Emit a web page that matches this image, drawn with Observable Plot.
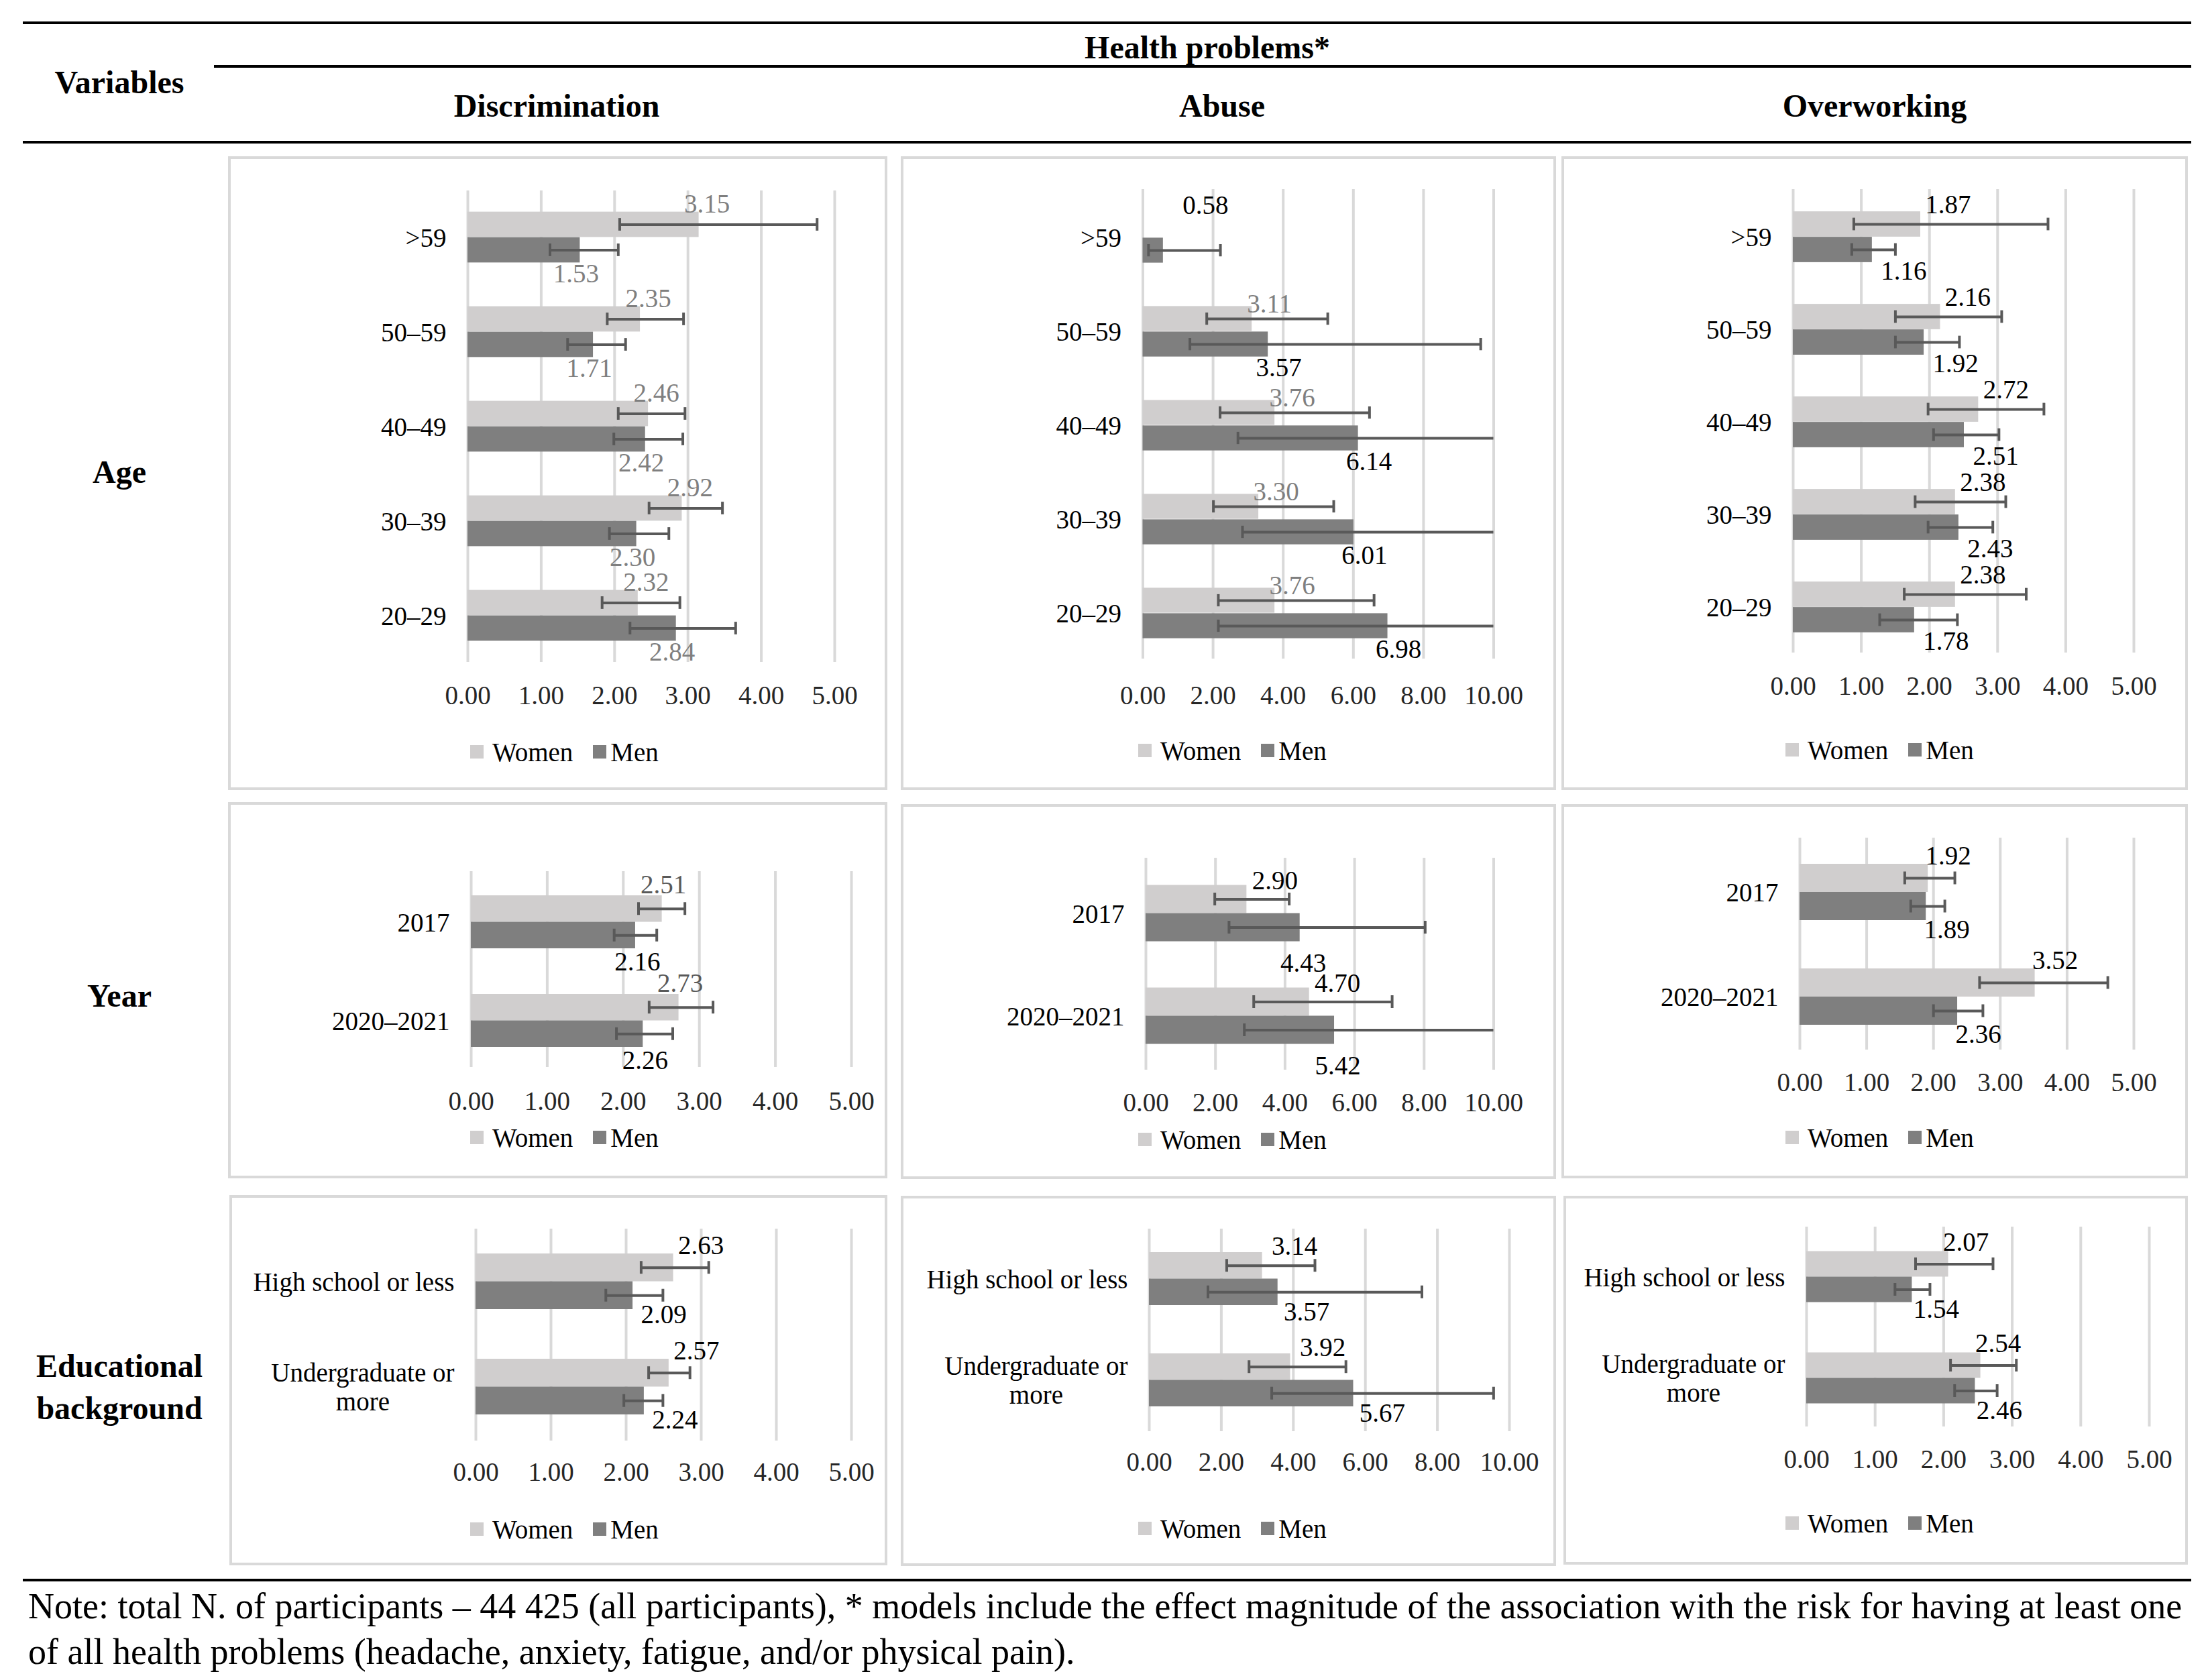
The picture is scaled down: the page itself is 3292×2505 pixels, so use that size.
<!DOCTYPE html>
<html>
<head>
<meta charset="utf-8">
<script src="https://cdn.jsdelivr.net/npm/d3@7"></script>
<script src="https://cdn.jsdelivr.net/npm/@observablehq/plot@0.6"></script>
<style>
  html, body { margin: 0; padding: 0; background: #fff; }
  #root { position: relative; width: 3292px; height: 2505px; background: #fff; font-family: "Liberation Serif", "Times New Roman", serif; color: #000; overflow: hidden; }
  .hline { position: absolute; background: #000; height: 4px; }
  .ctext { position: absolute; transform: translate(-50%, -50%); white-space: nowrap; }
  .bold { font-weight: bold; font-size: 48px; }
  .box { position: absolute; box-sizing: border-box; border: 4px solid #d9d9d9; }
  .chart { position: absolute; }
  .chart svg { overflow: visible; background: transparent; }
  .legend { position: absolute; display: flex; align-items: center; font-size: 39px; white-space: nowrap; height: 40px; transform: translateY(-50%); }
  .sw { display: inline-block; width: 20px; height: 20px; }
  .note { position: absolute; left: 42px; font-size: 54px; white-space: nowrap; transform: translateY(-50%); }
</style>
</head>
<body>
<div id="root"></div>
<script>
// ---------------- DATA ----------------
const ageCats = [">59", "50–59", "40–49", "30–39", "20–29"];
const yearCats = ["2017", "2020–2021"];
const eduCats = ["High school or less", "Undergraduate or more"];
const ageTickLabels = [">59", "50–59", "40–49", "30–39", "20–29"];
const yearTickLabels = ["2017", "2020–2021"];
const eduTickLabels = ["High school or less", "Undergraduate or\nmore"];
const series = ["Women", "Men"];
const ticks5 = [0, 1, 2, 3, 4, 5];
const ticks10 = [0, 2, 4, 6, 8, 10];

// Discrimination – Age
const discAgeWomen   = [3.15, 2.35, 2.46, 2.92, 2.32];
const discAgeWomenLo = [2.07, 1.90, 2.05, 2.47, 1.83];
const discAgeWomenHi = [4.76, 2.94, 2.96, 3.47, 2.89];
const discAgeMen     = [1.53, 1.71, 2.42, 2.30, 2.84];
const discAgeMenLo   = [1.12, 1.36, 1.99, 1.93, 2.21];
const discAgeMenHi   = [2.05, 2.15, 2.93, 2.74, 3.65];
// Abuse – Age
const abuseAgeWomen   = [null, 3.11, 3.76, 3.30, 3.76];
const abuseAgeWomenLo = [null, 1.82, 2.20, 2.01, 2.15];
const abuseAgeWomenHi = [null, 5.27, 6.46, 5.44, 6.59];
const abuseAgeMen     = [0.58, 3.57, 6.14, 6.01, 6.98];
const abuseAgeMenLo   = [0.16, 1.34, 2.71, 2.84, 2.15];
const abuseAgeMenHi   = [2.21, 9.63, 13.9, 12.7, 22.6];
// Overworking – Age
const overAgeWomen   = [1.87, 2.16, 2.72, 2.38, 2.38];
const overAgeWomenLo = [0.89, 1.50, 1.98, 1.79, 1.63];
const overAgeWomenHi = [3.74, 3.06, 3.68, 3.12, 3.42];
const overAgeMen     = [1.16, 1.92, 2.51, 2.43, 1.78];
const overAgeMenLo   = [0.86, 1.50, 2.06, 1.98, 1.27];
const overAgeMenHi   = [1.50, 2.44, 3.02, 2.93, 2.41];
// Discrimination – Year
const discYearWomen   = [2.51, 2.73];
const discYearWomenLo = [2.20, 2.34];
const discYearWomenHi = [2.81, 3.18];
const discYearMen     = [2.16, 2.26];
const discYearMenLo   = [1.88, 1.91];
const discYearMenHi   = [2.44, 2.65];
// Abuse – Year
const abuseYearWomen   = [2.90, 4.70];
const abuseYearWomenLo = [1.98, 3.10];
const abuseYearWomenHi = [4.12, 7.08];
const abuseYearMen     = [4.43, 5.42];
const abuseYearMenLo   = [2.39, 2.83];
const abuseYearMenHi   = [8.03, 10.4];
// Overworking – Year
const overYearWomen   = [1.92, 3.52];
const overYearWomenLo = [1.57, 2.69];
const overYearWomenHi = [2.32, 4.61];
const overYearMen     = [1.89, 2.36];
const overYearMenLo   = [1.66, 2.00];
const overYearMenHi   = [2.17, 2.74];
// Discrimination – Education
const discEduWomen   = [2.63, 2.57];
const discEduWomenLo = [2.20, 2.30];
const discEduWomenHi = [3.10, 2.85];
const discEduMen     = [2.09, 2.24];
const discEduMenLo   = [1.73, 1.97];
const discEduMenHi   = [2.49, 2.49];
// Abuse – Education
const abuseEduWomen   = [3.14, 3.92];
const abuseEduWomenLo = [2.15, 2.77];
const abuseEduWomenHi = [4.60, 5.46];
const abuseEduMen     = [3.57, 5.67];
const abuseEduMenLo   = [1.63, 3.40];
const abuseEduMenHi   = [7.57, 9.56];
// Overworking – Education
const overEduWomen   = [2.07, 2.54];
const overEduWomenLo = [1.59, 2.10];
const overEduWomenHi = [2.72, 3.06];
const overEduMen     = [1.54, 2.46];
const overEduMenLo   = [1.29, 2.16];
const overEduMenHi   = [1.80, 2.78];

// ---------------- STYLE ----------------
const WOMEN = "#d0cece", MEN = "#7f7f7f", ERR = "#595959", GRID = "#d9d9d9";
const FS = 39;
const root = document.getElementById("root");

function el(tag, cls, style, html) {
  const e = document.createElement(tag);
  if (cls) e.className = cls;
  if (style) Object.assign(e.style, style);
  if (html != null) e.innerHTML = html;
  root.appendChild(e);
  return e;
}
function hline(x0, x1, y) { el("div", "hline", {left: x0 + "px", width: (x1 - x0) + "px", top: (y - 2) + "px"}); }
function ctext(x, y, txt, cls) { el("div", "ctext " + (cls || ""), {left: x + "px", top: y + "px"}, txt); }

// Header
hline(34, 3267, 34);
ctext(1800, 70, "Health problems*", "bold");
hline(319, 3267, 99);
ctext(178, 122, "Variables", "bold");
ctext(830, 157, "Discrimination", "bold");
ctext(1822, 157, "Abuse", "bold");
ctext(2795, 157, "Overworking", "bold");
hline(34, 3267, 212);
// Row labels
ctext(178, 703, "Age", "bold");
ctext(178, 1484, "Year", "bold");
ctext(178, 2036, "Educational", "bold");
ctext(178, 2099, "background", "bold");
// Footer
hline(34, 3267, 2356);
el("div", "note", {top: "2395px"}, "Note: total N. of participants – 44 425 (all participants), * models include the effect magnitude of the association with the risk for having at least one");
el("div", "note", {top: "2463px"}, "of all health problems (headache, anxiety, fatigue, and/or physical pain).");

const ctx = document.createElement("canvas").getContext("2d");
ctx.font = FS + 'px "Liberation Serif"';
const measure = s => Math.max(...s.split("\n").map(l => ctx.measureText(l).width));
const fmt = d3.format(".2f");

function panel(p) {
  const [bx0, by0, bx1, by1] = p.box;
  el("div", "box", {left: bx0 + "px", top: by0 + "px", width: (bx1 - bx0) + "px", height: (by1 - by0) + "px"});
  const n = p.cats.length;
  const step = (p.cLast - p.cFirst) / (n - 1);
  const g = p.group, cap = 19;
  const rows = p.cats.map((c, i) => ({cat: c, label: p.labels[i], w: p.w[i], wlo: p.wlo[i], whi: p.whi[i], m: p.m[i], mlo: p.mlo[i], mhi: p.mhi[i]}));
  const wRows = rows.filter(d => d.w != null);
  const svgH = p.tickY + 30 - by0;
  const wCapIn = {insetTop: step / 2 - g / 4 - cap / 2, insetBottom: step / 2 + g / 4 - cap / 2};
  const mCapIn = {insetTop: step / 2 + g / 4 - cap / 2, insetBottom: step / 2 - g / 4 - cap / 2};
  const marks = [
    Plot.ruleX(p.ticks, {stroke: GRID, strokeWidth: 4}),
    Plot.barX(wRows, {x: "w", y: "cat", fill: WOMEN, insetTop: (step - g) / 2, insetBottom: step / 2}),
    Plot.barX(rows, {x: "m", y: "cat", fill: MEN, insetTop: step / 2, insetBottom: (step - g) / 2}),
    // error bars women
    Plot.ruleY(wRows, {y: "cat", x1: "wlo", x2: "whi", dy: -g / 4, stroke: ERR, strokeWidth: 4, clip: true}),
    Plot.tickX(wRows, {x: "wlo", y: "cat", stroke: ERR, strokeWidth: 4, ...wCapIn, clip: true}),
    Plot.tickX(wRows, {x: "whi", y: "cat", stroke: ERR, strokeWidth: 4, ...wCapIn, clip: true}),
    // error bars men
    Plot.ruleY(rows, {y: "cat", x1: "mlo", x2: "mhi", dy: g / 4, stroke: ERR, strokeWidth: 4, clip: true}),
    Plot.tickX(rows, {x: "mlo", y: "cat", stroke: ERR, strokeWidth: 4, ...mCapIn, clip: true}),
    Plot.tickX(rows, {x: "mhi", y: "cat", stroke: ERR, strokeWidth: 4, ...mCapIn, clip: true}),
    // value labels
    Plot.text(wRows, {x: "w", y: "cat", text: d => fmt(d.w), dx: p.wDx, dy: -(g / 2 + p.gapA), fill: p.wCol, fontSize: FS}),
    Plot.text(rows.filter(d => d.w != null), {x: "m", y: "cat", text: d => fmt(d.m), dx: p.mDx, dy: g / 2 + p.gapB, fill: p.mCol, fontSize: FS}),
    Plot.text(rows.filter(d => d.w == null), {x: "m", y: "cat", text: d => fmt(d.m), dx: 63, dy: -(g / 2 + 10), fill: p.mCol, fontSize: FS}),
    // category labels
    ...rows.map(r => Plot.text([r], {y: "cat", text: "label", frameAnchor: "left", textAnchor: "middle", lineHeight: 1.1, dx: -(32 + measure(r.label) / 2), fill: "#000", fontSize: FS})),
    Plot.axisX(p.ticks, {tickSize: 0, tickPadding: p.tickY - p.gridBottom - 15, tickFormat: fmt, fontSize: FS, label: null, fill: "#262626"})
  ];
  const chart = Plot.plot({
    width: bx1 - bx0,
    height: svgH,
    marginLeft: p.x0 - bx0,
    marginRight: bx1 - p.x1,
    marginTop: p.gridTop - by0,
    marginBottom: svgH - (p.gridBottom - by0),
    x: {domain: [0, p.ticks[p.ticks.length - 1]], label: null},
    y: {type: "band", domain: p.cats, range: [p.cFirst - step / 2 - by0, p.cLast + step / 2 - by0], padding: 0, axis: null},
    style: {fontFamily: '"Liberation Serif", serif', fontSize: FS + "px", color: "#000", background: "transparent"},
    marks
  });
  const holder = el("div", "chart", {left: bx0 + "px", top: by0 + "px"});
  holder.appendChild(chart);
  const lg = el("div", "legend", {left: p.legendX + "px", top: p.legendY + "px"});
  lg.innerHTML = `<span class="sw" style="background:${WOMEN}"></span><span style="margin-left:13px">${series[0]}</span>` +
                 `<span class="sw" style="background:${MEN};margin-left:30px"></span><span style="margin-left:6px">${series[1]}</span>`;
}

panel({box: [340, 233, 1323, 1178], x0: 697, x1: 1244, gridTop: 284, gridBottom: 987, cFirst: 353, cLast: 918, group: 76, tickY: 1037, legendY: 1121, legendX: 701, wDx: 12, mDx: -6, gapA: 11, gapB: 17, wCol: "#7f7f7f", mCol: "#7f7f7f",
  cats: ageCats, labels: ageTickLabels, ticks: ticks5, w: discAgeWomen, wlo: discAgeWomenLo, whi: discAgeWomenHi, m: discAgeMen, mlo: discAgeMenLo, mhi: discAgeMenHi});
panel({box: [1343, 233, 2320, 1178], x0: 1703.5, x1: 2226.5, gridTop: 282, gridBottom: 982, cFirst: 352, cLast: 915, group: 76, tickY: 1037, legendY: 1119, legendX: 1697, wDx: 26, mDx: 16, gapA: 3, gapB: 16, wCol: "#7f7f7f", mCol: "#000",
  cats: ageCats, labels: ageTickLabels, ticks: ticks10, w: abuseAgeWomen, wlo: abuseAgeWomenLo, whi: abuseAgeWomenHi, m: abuseAgeMen, mlo: abuseAgeMenLo, mhi: abuseAgeMenHi});
panel({box: [2328, 233, 3262, 1178], x0: 2673, x1: 3181, gridTop: 282, gridBottom: 973, cFirst: 352, cLast: 905, group: 76, tickY: 1023, legendY: 1118, legendX: 2662, wDx: 41, mDx: 47, gapA: 10, gapB: 13, wCol: "#000", mCol: "#000",
  cats: ageCats, labels: ageTickLabels, ticks: ticks5, w: overAgeWomen, wlo: overAgeWomenLo, whi: overAgeWomenHi, m: overAgeMen, mlo: overAgeMenLo, mhi: overAgeMenHi});
panel({box: [340, 1196, 1323, 1757], x0: 702, x1: 1269, gridTop: 1299, gridBottom: 1591, cFirst: 1374, cLast: 1521, group: 79, tickY: 1642, legendY: 1696, legendX: 701, wDx: 2, mDx: 3, gapA: 16, gapB: 20, wCol: "#595959", mCol: "#000",
  cats: yearCats, labels: yearTickLabels, ticks: ticks5, w: discYearWomen, wlo: discYearWomenLo, whi: discYearWomenHi, m: discYearMen, mlo: discYearMenLo, mhi: discYearMenHi});
panel({box: [1343, 1199, 2320, 1758], x0: 1708, x1: 2226.5, gridTop: 1279, gridBottom: 1595, cFirst: 1361, cLast: 1514, group: 84, tickY: 1644, legendY: 1699, legendX: 1697, wDx: 42, mDx: 5, gapA: 6, gapB: 33, wCol: "#000", mCol: "#000",
  cats: yearCats, labels: yearTickLabels, ticks: ticks10, w: abuseYearWomen, wlo: abuseYearWomenLo, whi: abuseYearWomenHi, m: abuseYearMen, mlo: abuseYearMenLo, mhi: abuseYearMenHi});
panel({box: [2328, 1199, 3262, 1757], x0: 2683, x1: 3181, gridTop: 1249, gridBottom: 1565, cFirst: 1330, cLast: 1486, group: 84, tickY: 1614, legendY: 1696, legendX: 2662, wDx: 30, mDx: 31, gapA: 12, gapB: 14, wCol: "#000", mCol: "#000",
  cats: yearCats, labels: yearTickLabels, ticks: ticks5, w: overYearWomen, wlo: overYearWomenLo, whi: overYearWomenHi, m: overYearMen, mlo: overYearMenLo, mhi: overYearMenHi});
panel({box: [342, 1782, 1323, 2334], x0: 709, x1: 1269, gridTop: 1832, gridBottom: 2148, cFirst: 1910, cLast: 2067, group: 83, tickY: 2195, legendY: 2280, legendX: 701, wDx: 41, mDx: 46, gapA: 12, gapB: 8, wCol: "#000", mCol: "#000",
  cats: eduCats, labels: eduTickLabels, ticks: ticks5, w: discEduWomen, wlo: discEduWomenLo, whi: discEduWomenHi, m: discEduMen, mlo: discEduMenLo, mhi: discEduMenHi});
panel({box: [1343, 1783, 2320, 2335], x0: 1713, x1: 2250, gridTop: 1832, gridBottom: 2134, cFirst: 1906, cLast: 2057, group: 79, tickY: 2180, legendY: 2279, legendX: 1697, wDx: 48, mDx: 43, gapA: 9, gapB: 10, wCol: "#000", mCol: "#000",
  cats: eduCats, labels: eduTickLabels, ticks: ticks10, w: abuseEduWomen, wlo: abuseEduWomenLo, whi: abuseEduWomenHi, m: abuseEduMen, mlo: abuseEduMenLo, mhi: abuseEduMenHi});
panel({box: [2331, 1783, 3262, 2333], x0: 2693, x1: 3204, gridTop: 1829, gridBottom: 2127, cFirst: 1903, cLast: 2054, group: 76, tickY: 2176, legendY: 2271, legendX: 2662, wDx: 26, mDx: 36, gapA: 13, gapB: 11, wCol: "#000", mCol: "#000",
  cats: eduCats, labels: eduTickLabels, ticks: ticks5, w: overEduWomen, wlo: overEduWomenLo, whi: overEduWomenHi, m: overEduMen, mlo: overEduMenLo, mhi: overEduMenHi});
</script>
</body>
</html>
